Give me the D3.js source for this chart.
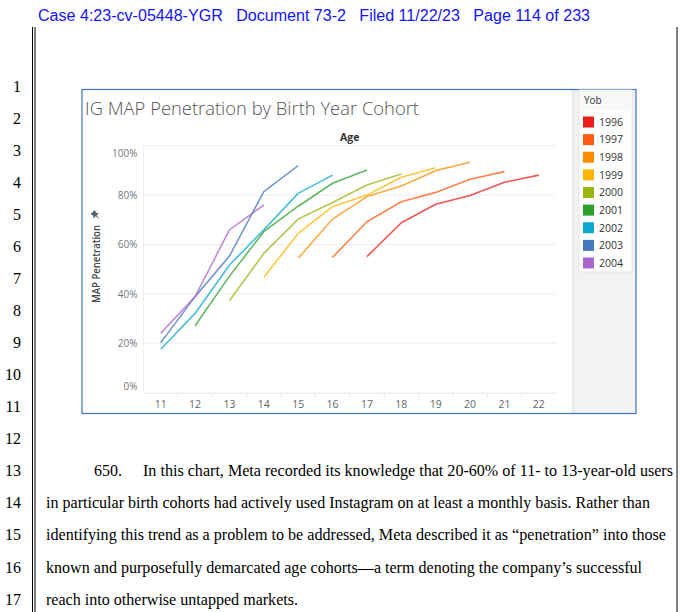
<!DOCTYPE html>
<html>
<head>
<meta charset="utf-8">
<script src="https://cdn.jsdelivr.net/npm/d3@7"></script>
<style>
  body { margin: 0; background: #fff; }
  svg { display: block; }
</style>
</head>
<body>
<svg id="page"></svg>
<script>
// ages on the x axis
const ages = [11, 12, 13, 14, 15, 16, 17, 18, 19, 20, 21, 22];
const yTicks = [0, 20, 40, 60, 80, 100];
const cohorts = ['1996', '1997', '1998', '1999', '2000', '2001', '2002', '2003', '2004'];
const cohortColors = ['#ee1c1c', '#ff5a14', '#ff8c00', '#ffb400', '#9bb510', '#2ca02c', '#0aa8cc', '#4678c0', '#aa66cc'];
// first age of each cohort's line
const startAge = [17, 16, 15, 14, 13, 12, 11, 11, 11];
// MAP penetration (%) per cohort, from startAge onwards
const pen1996 = [55.1, 68.8, 76.3, 79.8, 85.2, 88.1];
const pen1997 = [54.8, 69.2, 77.3, 81.1, 86.4, 89.5];
const pen1998 = [54.4, 70.3, 79.4, 83.7, 89.9, 93.3];
const pen1999 = [46.7, 64.5, 75.3, 80.0, 87.2, 91.1];
const pen2000 = [37.2, 56.4, 70.3, 77.0, 84.1, 88.5];
const pen2001 = [27.1, 47.2, 65.2, 75.5, 84.8, 90.2];
const pen2002 = [17.6, 32.1, 51.7, 65.9, 80.7, 88.1];
const pen2003 = [20.2, 38.9, 55.3, 81.4, 91.9];
const pen2004 = [24.0, 38.9, 65.9, 76.0];
const allPen = [pen1996, pen1997, pen1998, pen1999, pen2000, pen2001, pen2002, pen2003, pen2004];

const headerText = 'Case 4:23-cv-05448-YGR   Document 73-2   Filed 11/22/23   Page 114 of 233';
const paraLines = [
  'In this chart, Meta recorded its knowledge that 20-60% of 11- to 13-year-old users',
  'in particular birth cohorts had actively used Instagram on at least a monthly basis. Rather than',
  'identifying this trend as a problem to be addressed, Meta described it as \u201cpenetration\u201d into those',
  'known and purposefully demarcated age cohorts\u2014a term denoting the company\u2019s successful',
  'reach into otherwise untapped markets.'
];

const W = 686, H = 612;
const svg = d3.select('#page').attr('width', W).attr('height', H);

// ---- page furniture ----
svg.append('text').attr('x', 38).attr('y', 21)
  .attr('font-family', 'Liberation Sans, Arial, sans-serif').attr('font-size', 16)
  .attr('fill', '#1414ff').attr('textLength', 552).attr('lengthAdjust', 'spacingAndGlyphs')
  .style('white-space', 'pre').text(headerText);

[32.5, 35].forEach(x => svg.append('line').attr('x1', x).attr('x2', x).attr('y1', 27).attr('y2', H)
  .attr('stroke', '#000').attr('stroke-width', 1));
svg.append('line').attr('x1', 677).attr('x2', 677).attr('y1', 27).attr('y2', H)
  .attr('stroke', '#000').attr('stroke-width', 1);

const lineNums = d3.range(1, 18);
svg.selectAll('.lnum').data(lineNums).join('text')
  .attr('class', 'lnum')
  .attr('x', 21).attr('y', d => 86 + (d - 1) * 32.07 + 5.5)
  .attr('text-anchor', 'end')
  .attr('font-family', 'Liberation Serif, Times New Roman, serif').attr('font-size', 16)
  .attr('fill', '#000').text(d => d);

const serif = 'Liberation Serif, Times New Roman, serif';
svg.append('text').attr('x', 94).attr('y', 86 + 12 * 32.07 + 5.5)
  .attr('font-family', serif).attr('font-size', 16).text('650.');
const paraX = [143, 46, 46, 46, 46];
const paraW = [530, 604, 620, 596, 252];
paraLines.forEach((t, i) => {
  svg.append('text').attr('x', paraX[i]).attr('y', 86 + (12 + i) * 32.07 + 5.5)
    .attr('font-family', serif).attr('font-size', 16)
    .attr('textLength', paraW[i]).attr('lengthAdjust', 'spacingAndGlyphs')
    .text(t);
});

// ---- chart card ----
const sans = 'Open Sans, Noto Sans, sans-serif';
const card = { x: 82, y: 89.5, w: 554, h: 324 };
svg.append('rect').attr('x', 573).attr('y', card.y).attr('width', card.x + card.w - 573).attr('height', card.h)
  .attr('fill', '#f2f2f2');
svg.append('line').attr('x1', 573).attr('x2', 573).attr('y1', card.y).attr('y2', card.y + card.h)
  .attr('stroke', '#d8d8d8');
svg.append('rect').attr('x', card.x).attr('y', card.y).attr('width', card.w).attr('height', card.h)
  .attr('fill', 'none').attr('stroke', '#4472c4').attr('stroke-width', 1.2);

svg.append('text').attr('x', 85).attr('y', 115)
  .attr('font-family', sans).attr('font-size', 18.5).attr('font-weight', 300)
  .attr('fill', '#555').attr('textLength', 334).attr('lengthAdjust', 'spacingAndGlyphs')
  .text('IG MAP Penetration by Birth Year Cohort');

// scales
const x = d3.scaleBand().domain(ages).range([143.5, 556]);
const y = d3.scaleLinear().domain([0, 100]).range([392.7, 145.7]);
const plot = svg.append('g');

// gridlines
plot.selectAll('.grid').data(yTicks.slice(1)).join('line')
  .attr('x1', x.range()[0]).attr('x2', x.range()[1])
  .attr('y1', d => y(d)).attr('y2', d => y(d))
  .attr('stroke', '#efefef').attr('stroke-width', 1);
plot.append('line').attr('x1', 143.5).attr('x2', 143.5).attr('y1', y(100)).attr('y2', y(0))
  .attr('stroke', '#f0f0f0');

// y axis
const yAxis = plot.append('g').attr('transform', 'translate(143.5,0)')
  .call(d3.axisLeft(y).tickValues(yTicks).tickFormat(d => d + '%').tickSize(0).tickPadding(6));
yAxis.select('.domain').remove();
yAxis.selectAll('text').attr('font-family', sans).attr('font-size', 10).attr('fill', '#777')
  .attr('dy', d => d === 100 ? '1.1em' : d === 0 ? '-0.35em' : '0.32em');

// x axis
const xAxis = plot.append('g').attr('transform', `translate(0,${y(0)})`)
  .call(d3.axisBottom(x).tickSize(0).tickPadding(8));
xAxis.select('.domain').attr('stroke', '#e6e6e6');
xAxis.selectAll('text').attr('font-family', sans).attr('font-size', 10.5).attr('fill', '#666');
plot.selectAll('.div').data(ages.slice(1)).join('line')
  .attr('x1', d => x(d)).attr('x2', d => x(d)).attr('y1', y(0)).attr('y2', y(0) + 5)
  .attr('stroke', '#e6e6e6');

svg.append('text').attr('x', (x.range()[0] + x.range()[1]) / 2).attr('y', 141)
  .attr('text-anchor', 'middle').attr('font-family', sans).attr('font-size', 10.5)
  .attr('font-weight', 700).attr('fill', '#333').text('Age');

svg.append('text').attr('transform', 'translate(99.8,264) rotate(-90)')
  .attr('text-anchor', 'middle').attr('font-family', sans).attr('font-size', 11)
  .attr('font-weight', 600).attr('fill', '#444')
  .attr('textLength', 78).attr('lengthAdjust', 'spacingAndGlyphs').text('MAP Penetration');
// pin icon
svg.append('path').attr('transform', 'translate(95.5,215) rotate(-45)')
  .attr('d', 'M-3,-4 L3,-4 L2,-1 L4,1 L-4,1 L-2,-1 Z M-0.6,1 L0.6,1 L0,6 Z')
  .attr('fill', '#55606e');

// lines
const line = d3.line().x(d => x(d.age) + x.bandwidth() / 2).y(d => y(d.v));
const series = cohorts.map((c, i) => ({
  c, color: cohortColors[i],
  pts: allPen[i].map((v, j) => ({ age: startAge[i] + j, v }))
}));
plot.selectAll('.series').data(series).join('path')
  .attr('d', d => line(d.pts))
  .attr('fill', 'none').attr('stroke', d => d.color).attr('stroke-opacity', 0.75)
  .attr('stroke-width', 1.6).attr('stroke-linejoin', 'round');

// legend
const lg = svg.append('g');
lg.append('rect').attr('x', 579).attr('y', card.y + 0.5).attr('width', 53).attr('height', 182)
  .attr('fill', '#fff').attr('stroke', '#e4e4e4');
lg.append('rect').attr('x', 579.5).attr('y', card.y + 1).attr('width', 52).attr('height', 20)
  .attr('fill', '#f8f8f8');
lg.append('text').attr('x', 584).attr('y', 104).attr('font-family', sans).attr('font-size', 10)
  .attr('fill', '#333').text('Yob');
const ly = d3.scalePoint().domain(cohorts).range([122, 263]);
const items = lg.selectAll('.item').data(cohorts).join('g')
  .attr('transform', d => `translate(583,${ly(d)})`);
items.append('rect').attr('x', 0).attr('y', -5.5).attr('width', 11).attr('height', 11)
  .attr('fill', (d, i) => cohortColors[i]);
items.append('text').attr('x', 16).attr('y', 3.8).attr('font-family', sans).attr('font-size', 10.5)
  .attr('fill', '#333').text(d => d);
</script>
</body>
</html>
